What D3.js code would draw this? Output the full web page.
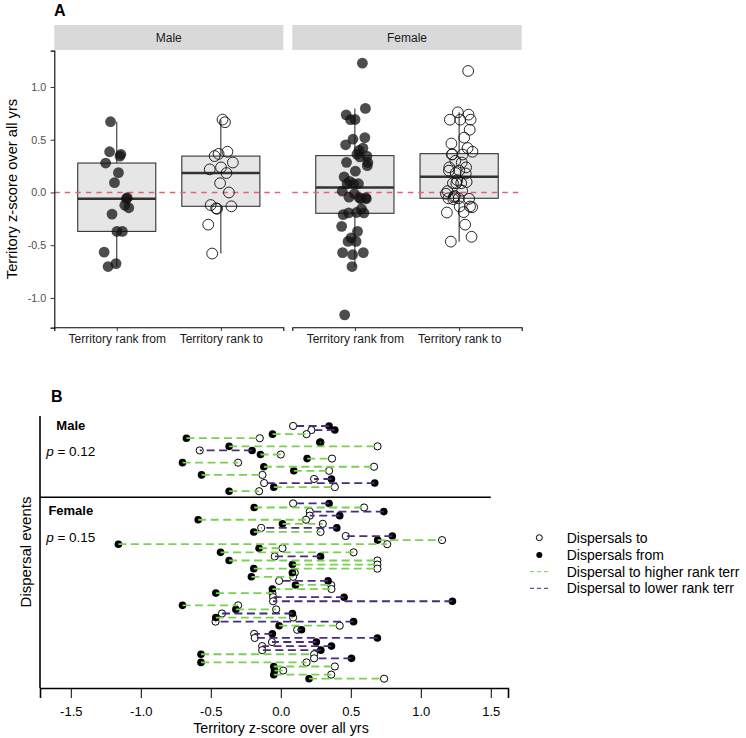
<!DOCTYPE html>
<html>
<head>
<meta charset="utf-8">
<script src="https://cdn.jsdelivr.net/npm/d3@7"></script>
<style>
  body { margin: 0; background: #fff; }
  svg { font-family: "Liberation Sans", Arial, sans-serif; }
</style>
</head>
<body>
<svg id="chart" width="746" height="738"></svg>
<script>
// dispersal events, read top to bottom in panel B
var maleFrom = [0.345, 0.386, -0.059, -0.674, 0.279, -0.369, -0.205, -0.145, 0.188, -0.702, -0.121, 0.093, -0.566, 0.362, 0.671, -0.05, -0.369];
var maleTo   = [0.088, 0.219, 0.184, -0.15, 0.284, 0.691, -0.579, 0.0, 0.366, -0.305, 0.666, 0.345, -0.131, 0.238, -0.119, 0.386, -0.155];

var femaleFrom = [0.345, -0.19, 0.736, 0.421, -0.59, 0.012, 0.40, -0.193, 0.797, 0.692, -1.16, -0.155, -0.43, 0.284, -0.369,
  0.083, -0.193, 0.083, -0.21, 0.338, 0.105, -0.06, -0.464, 0.452, 1.226, -0.702, -0.321, 0.083, -0.464, 0.52,
  -0.012, 0.148, -0.06, 0.69, 0.254, 0.362, 0.286, -0.57, 0.505, -0.57, -0.05, -0.045, -0.05, 0.202];
var femaleTo = [0.088, 0.595, 0.207, 0.207, 0.18, 0.30, -0.14, 0.284, 0.464, 1.152, 0.76, 0.012, 0.52, -0.043, 0.69,
  0.69, 0.69, 0.10, 0.088, -0.012, 0.36, 0.362, -0.06, -0.055, -0.055, -0.305, -0.033, -0.42, 0.088, -0.466,
  0.421, 0.117, -0.19, -0.186, -0.063, -0.133, -0.133, 0.238, 0.238, 0.184, 0.386, 0.017, 0.36, 0.738];

var categories = ["Territory rank from", "Territory rank to"];
var sexes = ["Male", "Female"];
var pValues = ["0.12", "0.15"];
var yTicksA = [-1.0, -0.5, 0.0, 0.5, 1.0];
var xTicksB = [-1.5, -1.0, -0.5, 0.0, 0.5, 1.0, 1.5];
var legendLabels = ["Dispersals to", "Dispersals from", "Dispersal to higher rank terr", "Dispersal to lower rank terr"];

var GREEN = "#7AD151", PURPLE = "#472D7B";

var svg = d3.select("#chart");

/* ---------------- panel A ---------------- */
var yA = d3.scaleLinear().domain([-1.281, 1.345]).range([327.6, 50.6]);

svg.append("text").attr("x", 54).attr("y", 15.5)
  .attr("font-size", 16).attr("font-weight", "bold").text("A");

var facets = [
  {name: sexes[0], from: maleFrom, to: maleTo, x0: 54.3, x1: 283.3},
  {name: sexes[1], from: femaleFrom, to: femaleTo, x0: 292.3, x1: 521.7}
];

function boxStats(v) {
  var s = v.slice().sort(d3.ascending);
  var q1 = d3.quantile(s, 0.25), med = d3.quantile(s, 0.5), q3 = d3.quantile(s, 0.75);
  var iqr = q3 - q1;
  var lo = d3.min(s.filter(function(d){ return d >= q1 - 1.5 * iqr; }));
  var hi = d3.max(s.filter(function(d){ return d <= q3 + 1.5 * iqr; }));
  return {q1: q1, med: med, q3: q3, lo: lo, hi: hi};
}

// deterministic horizontal spread for the points
function spread(i) { return (((i + 1) * 0.6180339887) % 1 - 0.5) * 0.26; }

facets.forEach(function(f, fi) {
  var x = d3.scaleLinear().domain([0.4, 2.6]).range([f.x0, f.x1]);
  var g = svg.append("g");

  // strip
  g.append("rect").attr("x", f.x0).attr("y", 25).attr("width", f.x1 - f.x0).attr("height", 25)
    .attr("fill", "#D9D9D9");
  g.append("text").attr("x", (f.x0 + f.x1) / 2).attr("y", 41.7).attr("text-anchor", "middle")
    .attr("font-size", 12).attr("fill", "#1A1A1A").text(f.name);

  [f.from, f.to].forEach(function(vals, ci) {
    var st = boxStats(vals);
    var cx = x(ci + 1), hw = (x(1.375) - x(1));
    // whiskers
    g.append("line").attr("x1", cx).attr("x2", cx).attr("y1", yA(st.hi)).attr("y2", yA(st.q3))
      .attr("stroke", "#333").attr("stroke-width", 1.1);
    g.append("line").attr("x1", cx).attr("x2", cx).attr("y1", yA(st.q1)).attr("y2", yA(st.lo))
      .attr("stroke", "#333").attr("stroke-width", 1.1);
    g.append("rect").attr("x", cx - hw).attr("width", 2 * hw)
      .attr("y", yA(st.q3)).attr("height", yA(st.q1) - yA(st.q3))
      .attr("fill", "#E6E6E6").attr("stroke", "#333").attr("stroke-width", 1.1);
    g.append("line").attr("x1", cx - hw).attr("x2", cx + hw).attr("y1", yA(st.med)).attr("y2", yA(st.med))
      .attr("stroke", "#333").attr("stroke-width", 2.4);
  });

  // zero reference line
  g.append("line").attr("x1", f.x0).attr("x2", f.x1).attr("y1", yA(0)).attr("y2", yA(0))
    .attr("stroke", "#E8606F").attr("stroke-width", 1.3).attr("stroke-dasharray", "5.5,5");

  // points
  g.selectAll("circle.from").data(f.from).enter().append("circle")
    .attr("cx", function(d, i){ return x(1 + spread(i + fi * 7)); })
    .attr("cy", function(d){ return yA(d); })
    .attr("r", 5.4).attr("fill", "#111").attr("fill-opacity", 0.75);
  g.selectAll("circle.to").data(f.to).enter().append("circle")
    .attr("cx", function(d, i){ return x(2 + spread(i + 3 + fi * 11)); })
    .attr("cy", function(d){ return yA(d); })
    .attr("r", 5.4).attr("fill", "none").attr("stroke", "#111").attr("stroke-width", 0.9);

  // x axis
  var ax = g.append("g").attr("transform", "translate(0,327.3)")
    .call(d3.axisBottom(x).tickValues([1, 2]).tickFormat(function(d){ return categories[d - 1]; })
      .tickSizeOuter(0).tickSize(3.7).tickPadding(3));
  ax.select(".domain").attr("stroke", "#000").attr("stroke-width", 1.1);
  ax.selectAll(".tick line").attr("stroke", "#333");
  ax.selectAll("text").attr("font-size", 12).attr("fill", "#1A1A1A").attr("font-family", null);

  if (fi === 0) {
    var ay = g.append("g").attr("transform", "translate(" + f.x0 + ",0)")
      .call(d3.axisLeft(yA).tickValues(yTicksA).tickFormat(function(d){ return d.toFixed(1); })
        .tickSizeOuter(0).tickSize(3.7).tickPadding(4.5));
    ay.select(".domain").attr("stroke", "#000").attr("stroke-width", 1.1);
    ay.selectAll(".tick line").attr("stroke", "#333");
    ay.selectAll("text").attr("font-size", 10.7).attr("fill", "#4D4D4D").attr("font-family", null);
  }
});

svg.append("text").attr("transform", "translate(17,189) rotate(-90)").attr("text-anchor", "middle")
  .attr("font-size", 14.7).attr("fill", "#000").text("Territory z-score over all yrs");

/* ---------------- panel B ---------------- */
var xB = d3.scaleLinear().domain([-1.72, 1.623]).range([40, 508]);
var yB = d3.scaleLinear().domain([-2.45, 64.28]).range([416, 688]);

svg.append("text").attr("x", 51).attr("y", 401.5)
  .attr("font-size", 16).attr("font-weight", "bold").text("B");

var events = [];
maleFrom.forEach(function(d, i){ events.push({from: d, to: maleTo[i], row: i}); });
femaleFrom.forEach(function(d, i){ events.push({from: d, to: femaleTo[i], row: maleFrom.length + 2 + i}); });

var gB = svg.append("g");
gB.selectAll("circle.bto").data(events).enter().append("circle")
  .attr("cx", function(d){ return xB(d.to); }).attr("cy", function(d){ return yB(d.row); })
  .attr("r", 3.6).attr("fill", "#fff").attr("stroke", "#000").attr("stroke-width", 1);
gB.selectAll("circle.bfrom").data(events).enter().append("circle")
  .attr("cx", function(d){ return xB(d.from); }).attr("cy", function(d){ return yB(d.row); })
  .attr("r", 3.8).attr("fill", "#000");
gB.selectAll("line.seg").data(events).enter().append("line")
  .attr("x1", function(d){ return xB(d.from); }).attr("x2", function(d){ return xB(d.to); })
  .attr("y1", function(d){ return yB(d.row); }).attr("y2", function(d){ return yB(d.row); })
  .attr("stroke", function(d){ return d.to > d.from ? GREEN : PURPLE; })
  .attr("stroke-width", 1.8).attr("stroke-dasharray", "8,4.5");

// separator between sexes
var sepRow = maleFrom.length + 0.5;
gB.append("line").attr("x1", 40).attr("x2", xB(1.5)).attr("y1", yB(sepRow)).attr("y2", yB(sepRow))
  .attr("stroke", "#000").attr("stroke-width", 1.6);

// sex labels and p values
var labelRows = [-0.25, maleFrom.length + 2 + 1.8];
sexes.forEach(function(s, i) {
  var yy = yB(labelRows[i]);
  gB.append("text").attr("x", xB(-1.5)).attr("y", yy + 4.7).attr("text-anchor", "middle")
    .attr("font-size", 13).attr("font-weight", "bold").text(s);
  var t = gB.append("text").attr("x", xB(-1.5)).attr("y", yy + 31).attr("text-anchor", "middle")
    .attr("font-size", 13.5);
  t.append("tspan").attr("font-style", "italic").text("p");
  t.append("tspan").text(" = " + pValues[i]);
});

// axes
gB.append("line").attr("x1", 40).attr("x2", 40).attr("y1", 416).attr("y2", 688)
  .attr("stroke", "#000").attr("stroke-width", 1.6);
var axB = gB.append("g").attr("transform", "translate(0,688)")
  .call(d3.axisBottom(xB).tickValues(xTicksB).tickFormat(function(d){ return d.toFixed(1); })
    .tickSizeOuter(0).tickSize(10).tickPadding(9));
axB.select(".domain").attr("stroke", "#000").attr("stroke-width", 1.6);
axB.selectAll(".tick line").attr("stroke", "#000");
axB.selectAll("text").attr("font-size", 13).attr("fill", "#000").attr("font-family", null);

svg.append("text").attr("x", 281).attr("y", 733).attr("text-anchor", "middle")
  .attr("font-size", 14.3).text("Territory z-score over all yrs");
svg.append("text").attr("transform", "translate(31,552) rotate(-90)").attr("text-anchor", "middle")
  .attr("font-size", 15).text("Dispersal events");

// legend
var legY = [537.7, 555, 571.7, 588.3];
var leg = svg.append("g");
leg.append("circle").attr("cx", 539.3).attr("cy", legY[0]).attr("r", 3)
  .attr("fill", "#fff").attr("stroke", "#000").attr("stroke-width", 1);
leg.append("circle").attr("cx", 539.3).attr("cy", legY[1]).attr("r", 3).attr("fill", "#000");
[GREEN, PURPLE].forEach(function(c, i) {
  leg.append("line").attr("x1", 530).attr("x2", 549).attr("y1", legY[2 + i]).attr("y2", legY[2 + i])
    .attr("stroke", c).attr("stroke-width", 1).attr("stroke-dasharray", "4,3");
});
legendLabels.forEach(function(l, i) {
  leg.append("text").attr("x", 566.7).attr("y", legY[i] + 5).attr("font-size", 14).text(l);
});
</script>
</body>
</html>
